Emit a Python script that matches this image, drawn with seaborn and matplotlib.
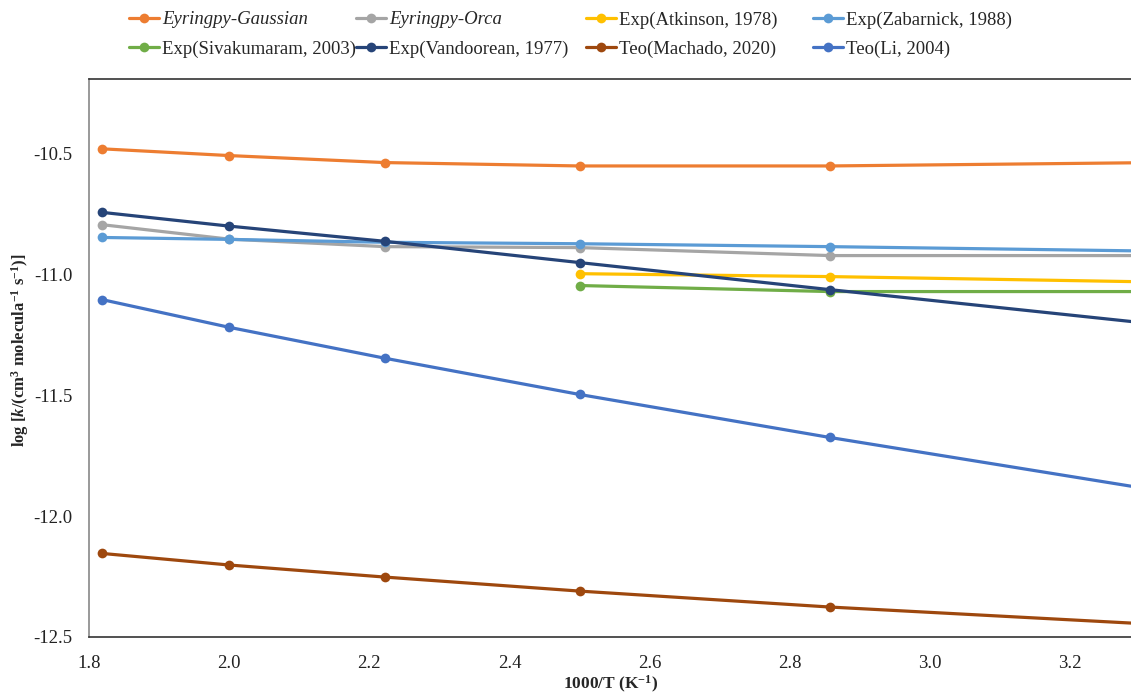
import seaborn as sns
import matplotlib.pyplot as plt
import pandas as pd

# 1000/T for T = 550, 500, 450, 400, 350, 298 K
inv_t = [1000 / 550, 1000 / 500, 1000 / 450, 1000 / 400, 1000 / 350, 1000 / 298]

gaussian = [-10.479, -10.507, -10.536, -10.550, -10.550, -10.535]
orca = [-10.793, -10.853, -10.884, -10.888, -10.921, -10.921]
atkinson = [None, None, None, -10.996, -11.008, -11.032]
zabarnick = [-10.846, -10.854, -10.866, -10.872, -10.884, -10.904]
sivakumaram = [None, None, None, -11.045, -11.070, -11.070]
vandoorean = [-10.742, -10.799, -10.862, -10.950, -11.062, -11.215]
machado = [-12.154, -12.202, -12.252, -12.310, -12.376, -12.453]
li = [-11.103, -11.218, -11.346, -11.496, -11.674, -11.908]

series = {
    "Eyringpy-Gaussian": gaussian,
    "Eyringpy-Orca": orca,
    "Exp(Atkinson, 1978)": atkinson,
    "Exp(Zabarnick, 1988)": zabarnick,
    "Exp(Sivakumaram, 2003)": sivakumaram,
    "Exp(Vandoorean, 1977)": vandoorean,
    "Teo(Machado, 2020)": machado,
    "Teo(Li, 2004)": li,
}
colors = ["#ED7D31", "#A5A5A5", "#FFC000", "#5B9BD5",
          "#70AD47", "#264478", "#9E480E", "#4472C4"]

rows = []
for name, vals in series.items():
    for x, y in zip(inv_t, vals):
        if y is not None:
            rows.append({"x": x, "y": y, "serie": name})
df = pd.DataFrame(rows)

sns.set_style("white")
plt.rcParams["font.family"] = ["Liberation Serif", "DejaVu Serif"]
plt.rcParams["mathtext.fontset"] = "custom"
plt.rcParams["mathtext.rm"] = "Liberation Serif:bold"
plt.rcParams["mathtext.it"] = "Liberation Serif:bold:italic"
plt.rcParams["mathtext.bf"] = "Liberation Serif:bold"
plt.rcParams["mathtext.default"] = "rm"

fig = plt.figure(figsize=(11.31, 6.96), dpi=100)
ax = fig.add_axes([0.0787, 0.0848, 0.9213, 0.8017])

sns.lineplot(data=df, x="x", y="y", hue="serie", palette=colors,
             hue_order=list(series.keys()), marker="o", markersize=7,
             markeredgewidth=0, linewidth=2.3, sort=True, ax=ax)

ax.set_xlim(1.8, 3.287)
ax.set_ylim(-12.5, -10.19)
ax.set_xticks([1.8, 2.0, 2.2, 2.4, 2.6, 2.8, 3.0, 3.2])
ax.set_xticklabels(["1.8", "2.0", "2.2", "2.4", "2.6", "2.8", "3.0", "3.2"])
ax.set_yticks([-12.5, -12.0, -11.5, -11.0, -10.5])
ax.set_yticklabels(["-12.5", "-12.0", "-11.5", "-11.0", "-10.5"])
ax.tick_params(axis="y", length=0, labelsize=13.5, pad=12, colors="#222222")
ax.tick_params(axis="x", length=0, labelsize=13.5, pad=13, colors="#222222")

ax.set_xlabel(r"1000/T (K$^{-1}$)", fontsize=12.5, fontweight="bold")
ax.set_ylabel(r"log [$\mathit{k}$/(cm$^{3}$ molecula$^{-1}$ s$^{-1}$)]",
              fontsize=12, fontweight="bold")
ax.xaxis.set_label_coords((610 - 89) / 1041, (637 - 674) / 558)
ax.yaxis.set_label_coords((31 - 89) / 1041, (637 - 350) / 558)

ax.spines["right"].set_visible(False)
ax.spines["left"].set_color("#888888")
ax.spines["bottom"].set_color("#333333")
ax.spines["top"].set_color("#333333")
for s in ["left", "bottom", "top"]:
    ax.spines[s].set_linewidth(1.2)

handles, labels = ax.get_legend_handles_labels()
ax.legend_.remove()
# one small legend per column so the columns sit at fixed positions
col_x = [118, 345, 575, 802]
for c, xpix in enumerate(col_x):
    idx = [c, c + 4]
    leg = fig.legend([handles[i] for i in idx], [labels[i] for i in idx],
                     loc="upper left", bbox_to_anchor=(xpix / 1131, 1.0),
                     frameon=False, fontsize=13.5, handlelength=1.6,
                     handletextpad=0.15, labelspacing=0.65, borderaxespad=0.2)
    if c < 2:
        leg.get_texts()[0].set_fontstyle("italic")

fig.savefig("out.png", dpi=100)
